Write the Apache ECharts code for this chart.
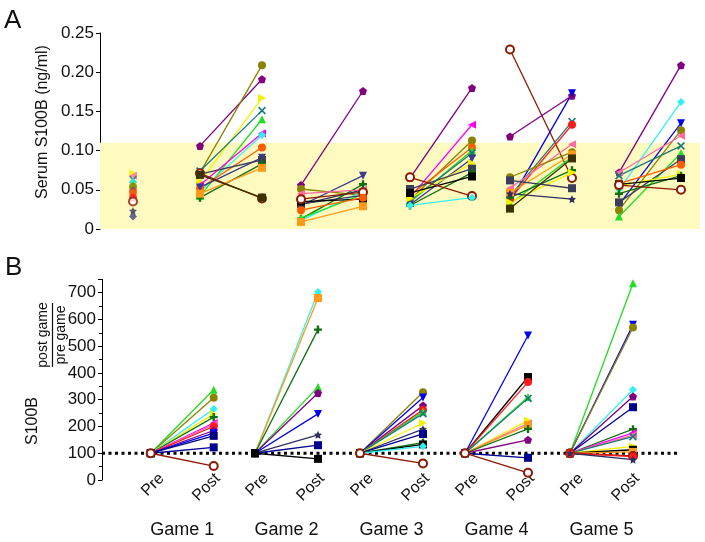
<!DOCTYPE html>
<html><head><meta charset="utf-8">
<script src="https://cdn.jsdelivr.net/npm/echarts@6/dist/echarts.min.js"></script>
<style>html,body{margin:0;padding:0;background:#fff}#c{width:705px;height:542px}</style>
</head><body><div id="c"></div>
<script>
// ---------- DATA ----------
const gameNames = ['Game 1','Game 2','Game 3','Game 4','Game 5'];
const phaseNames = ['Pre','Post'];
const topTicks = [0, 0.05, 0.10, 0.15, 0.20, 0.25];
const bottomTicks = [0,100,200,300,400,500,600,700];

// baseline serum S100B (ng/ml) [subject, value]
const baseline = [['yellow',0.071],['pink',0.068],['teal',0.063],['cyan',0.060],['green',0.057],['olive',0.054],['mauve',0.049],['orange',0.046],['red',0.040],['brown',0.035],['navyStar',0.023],['slateD',0.016]];

// serum S100B per game: [subject, pre, post]
const serumG1 = [['purple',0.106,0.191],['olive',0.072,0.209],['yellow',0.060,0.167],['teal',0.074,0.151],['green',0.042,0.140],['magenta',0.056,0.122],['cyan',0.048,0.120],['orange',0.052,0.104],['navyTri',0.053,0.091],['slate',0.070,0.088],['dgreen',0.040,0.083],['orangeDash',0.045,0.078],['brown',0.071,0.039],['dolive',0.069,0.040]];
const serumG2 = [['purple',0.056,0.176],['olive',0.051,0.043],['navyTri',0.030,0.068],['dgreen',0.013,0.057],['navyStar',0.031,0.050],['cyan',0.011,0.048],['green',0.014,0.044],['slate',0.032,0.043],['black',0.035,0.038],['orangeDash',0.009,0.029],['pink',0.045,0.050],['brown',0.038,0.047],['orange',0.024,0.040]];
const serumG3 = [['purple',0.065,0.180],['magenta',0.040,0.133],['olive',0.037,0.113],['orange',0.043,0.104],['green',0.034,0.100],['teal',0.036,0.097],['navyTri',0.031,0.090],['yellow',0.039,0.084],['slate',0.051,0.077],['dgreen',0.030,0.072],['black',0.046,0.067],['brown',0.066,0.042],['cyan',0.030,0.040]];
const serumG4 = [['brown',0.229,0.065],['purple',0.118,0.170],['blue',0.035,0.173],['teal',0.042,0.137],['red',0.038,0.133],['pink',0.052,0.108],['olive',0.066,0.098],['green',0.032,0.092],['orangeDash',0.046,0.095],['dgreen',0.040,0.075],['yellow',0.034,0.072],['slate',0.062,0.052],['navyStar',0.045,0.038],['dolive',0.026,0.090]];
const serumG5 = [['purple',0.072,0.209],['cyan',0.050,0.162],['blue',0.031,0.135],['olive',0.024,0.126],['pink',0.072,0.119],['teal',0.068,0.106],['green',0.016,0.097],['slate',0.034,0.089],['orange',0.058,0.082],['yellow',0.055,0.070],['dgreen',0.045,0.068],['black',0.057,0.065],['brown',0.056,0.050]];

// post/pre ratio (%) per game: [subject, ratio]
const ratioG1 = [['green',337],['olive',307],['cyan',265],['yellow',247],['dgreen',235],['magenta',213],['pink',207],['red',200],['purple',185],['blue',175],['navySq',165],['navyX',122],['brown',52]];
const ratioG2 = [['cyan',703],['orangeDash',680],['dgreen',562],['green',348],['purple',325],['blue',247],['navyStar',169],['navyX',130],['black',79]];
const ratioG3 = [['olive',328],['blue',308],['purple',278],['red',262],['green',255],['teal',248],['yellow',213],['navyStar',190],['navyX',172],['dgreen',140],['black',133],['cyan',126],['brown',62]];
const ratioG4 = [['blue',540],['black',385],['red',366],['green',310],['teal',305],['yellow',222],['pink',212],['orangeDash',205],['dgreen',191],['purple',150],['navyX',83],['brown',27]];
const ratioG5 = [['green',735],['blue',580],['olive',570],['cyan',337],['purple',312],['navyX',272],['dgreen',190],['magenta',176],['pink',168],['teal',162],['yellow',126],['black',113],['orangeDash',105],['brown',90],['red',87],['navyStar',76]];
const preRatio = 100;

// ---------- STYLE / LAYOUT ----------
const P = {
  pent:'path://M0,-10 L9.5,-3.1 L5.9,8.1 L-5.9,8.1 L-9.5,-3.1 Z',
  star:'path://M0,-10 L2.9,-4 L9.5,-3.1 L4.7,1.5 L5.9,8.1 L0,5 L-5.9,8.1 L-4.7,1.5 L-9.5,-3.1 L-2.9,-4 Z',
  x:'path://M-10,-7 L-7,-10 L0,-3 L7,-10 L10,-7 L3,0 L10,7 L7,10 L0,3 L-7,10 L-10,7 L-3,0 Z',
  plus:'path://M-3,-10 L3,-10 L3,-3 L10,-3 L10,3 L3,3 L3,10 L-3,10 L-3,3 L-10,3 L-10,-3 L-3,-3 Z',
  dash:'path://M-10,-2.5 L10,-2.5 L10,2.5 L-10,2.5 Z'
};
const ST = {
  olive:{c:'#8a8200',s:'circle'}, purple:{c:'#800080',s:P.pent}, yellow:{c:'#f2f200',s:'triangle',r:-90},
  teal:{c:'#1a7a7a',s:P.x}, green:{c:'#22dd22',s:'triangle'}, magenta:{c:'#ff00ff',s:'triangle',r:90},
  orange:{c:'#ff5a00',s:'circle'}, navyTri:{c:'#3a3a90',s:'triangle',r:180}, slate:{c:'#3c3c5c',s:'rect'},
  orangeDash:{c:'#ff9a1a',s:P.dash}, brown:{c:'#8a1a00',s:'emptyCircle'}, cyan:{c:'#33f0f0',s:'diamond'},
  dgreen:{c:'#107010',s:P.plus}, pink:{c:'#ff6aa0',s:'triangle',r:90}, navyStar:{c:'#2f2f60',s:P.star},
  black:{c:'#000000',s:'rect'}, red:{c:'#ff1a1a',s:'circle'}, blue:{c:'#0000ee',s:'triangle',r:180},
  dolive:{c:'#3a3000',s:'rect'}, mauve:{c:'#a03a60',s:P.pent}, slateD:{c:'#404080',s:'diamond'},
  navySq:{c:'#000080',s:'rect'}, navyX:{c:'#000090',s:'rect'}
};
const FONT = 'Liberation Sans, Arial, sans-serif';
// grid-relative x positions (value-axis units = px)
const topBaseX = 33, topPreX = [100,201,310,410,519], topGap = 62;
const botPreX = [48.7,153,258,363,468], botGap = 63;
const preLabelShift = 11, postLabelShift = 4;

// ---------- BUILD ----------
const serumGames = [serumG1,serumG2,serumG3,serumG4,serumG5];
const ratioGames = [ratioG1,ratioG2,ratioG3,ratioG4,ratioG5];
const series = [];
series.push({type:'line',xAxisIndex:0,yAxisIndex:0,data:[],silent:true,
  markArea:{silent:true,itemStyle:{color:'#fffabf'},data:[[{coord:[0,0]},{coord:[600,0.11]}]]}});
function sym(k){const s=ST[k];return {symbol:s.s,symbolRotate:s.r||0};}
function ist(k){return {color:ST[k].c,borderColor:ST[k].c,borderWidth:ST[k].s==='emptyCircle'?2:0};}
baseline.forEach(([k,v])=>{
  series.push(Object.assign({type:'scatter',xAxisIndex:0,yAxisIndex:0,data:[[topBaseX,v]],symbolSize:8,
    itemStyle:ist(k),silent:true},sym(k)));
});
serumGames.forEach((g,gi)=>{
  g.forEach(([k,pre,post])=>{
    series.push(Object.assign({type:'line',xAxisIndex:0,yAxisIndex:0,
      data:[[topPreX[gi],pre],[topPreX[gi]+topGap,post]],symbolSize:8,showAllSymbol:true,
      lineStyle:{color:ST[k].c,width:1.3},itemStyle:ist(k),silent:true},sym(k)));
  });
});
series.push({type:'line',xAxisIndex:1,yAxisIndex:1,data:[[0,preRatio],[578,preRatio]],symbol:'none',silent:true,
  lineStyle:{color:'#000',width:3,type:[3,3.5]},z:3});
ratioGames.forEach((g,gi)=>{
  g.forEach(([k,r])=>{
    series.push(Object.assign({type:'line',xAxisIndex:1,yAxisIndex:1,
      data:[[botPreX[gi],preRatio],[botPreX[gi]+botGap,r]],symbolSize:8,showAllSymbol:true,
      lineStyle:{color:ST[k].c,width:1.3},itemStyle:ist(k),silent:true,z:4},sym(k)));
  });
});

const phaseVals = [], phaseMap = {};
botPreX.forEach(x=>{
  const a = x+preLabelShift, b = x+botGap+postLabelShift;
  phaseVals.push(a); phaseMap[a]=phaseNames[0];
  phaseVals.push(b); phaseMap[b]=phaseNames[1];
});
const gameVals = [], gameMap = {};
botPreX.forEach((x,i)=>{const m=x+botGap/2;gameVals.push(m);gameMap[m]=gameNames[i];});

const chart = echarts.init(document.getElementById('c'),null,{renderer:'canvas'});
chart.setOption({
  animation:false,
  grid:[{left:100,top:33,width:600,height:196},{left:102,top:279.3,width:578,height:200.7}],
  xAxis:[
    {gridIndex:0,type:'value',min:0,max:600,show:false},
    {gridIndex:1,type:'value',position:'bottom',min:0,max:578,axisLine:{show:false},axisTick:{show:false},splitLine:{show:false},
      axisLabel:{customValues:phaseVals,formatter:v=>phaseMap[v]||'',rotate:45,margin:-4,fontSize:16,color:'#111',fontFamily:FONT}},
    {gridIndex:1,type:'value',position:'bottom',offset:0,min:0,max:578,axisLine:{show:false},axisTick:{show:false},splitLine:{show:false},
      axisLabel:{customValues:gameVals,formatter:v=>gameMap[v]||'',margin:41,fontSize:18,color:'#111',fontFamily:FONT}}
  ],
  yAxis:[
    {gridIndex:0,type:'value',min:0,max:0.25,interval:0.05,splitLine:{show:false},
      axisLine:{show:true,lineStyle:{color:'#000',width:1}},axisTick:{show:true,length:4,lineStyle:{color:'#000'}},
      axisLabel:{formatter:v=>v===0?'0':v.toFixed(2),fontSize:17,color:'#111',margin:6,fontFamily:FONT}},
    {gridIndex:1,type:'value',min:0,max:750,interval:100,splitLine:{show:false},
      axisLine:{show:true,lineStyle:{color:'#000',width:1}},axisTick:{show:true,length:4,lineStyle:{color:'#000'}},
      minorTick:{show:true,splitNumber:2,length:3,lineStyle:{color:'#000'}},
      axisLabel:{showMaxLabel:false,fontSize:17,color:'#111',margin:6,fontFamily:FONT}}
  ],
  graphic:[
    {type:'text',left:4,top:8,style:{text:'A',fontSize:26,fill:'#111',fontFamily:FONT}},
    {type:'text',left:5,top:255,style:{text:'B',fontSize:26,fill:'#111',fontFamily:FONT}},
    {type:'text',x:43,y:122,rotation:Math.PI/2,style:{text:'Serum S100B (ng/ml)',fontSize:16,fill:'#111',align:'center',verticalAlign:'middle',fontFamily:FONT}},
    {type:'text',x:33,y:421,rotation:Math.PI/2,style:{text:'S100B',fontSize:16,fill:'#111',align:'center',verticalAlign:'middle',fontFamily:FONT}},
    {type:'text',x:43,y:335,rotation:Math.PI/2,style:{text:'post game',fontSize:14,fill:'#111',align:'center',verticalAlign:'middle',fontFamily:FONT}},
    {type:'line',shape:{x1:52.5,y1:303,x2:52.5,y2:367},style:{stroke:'#111',lineWidth:1.2}},
    {type:'text',x:61,y:335,rotation:Math.PI/2,style:{text:'pre game',fontSize:14,fill:'#111',align:'center',verticalAlign:'middle',fontFamily:FONT}}
  ],
  series:series
});
</script></body></html>
